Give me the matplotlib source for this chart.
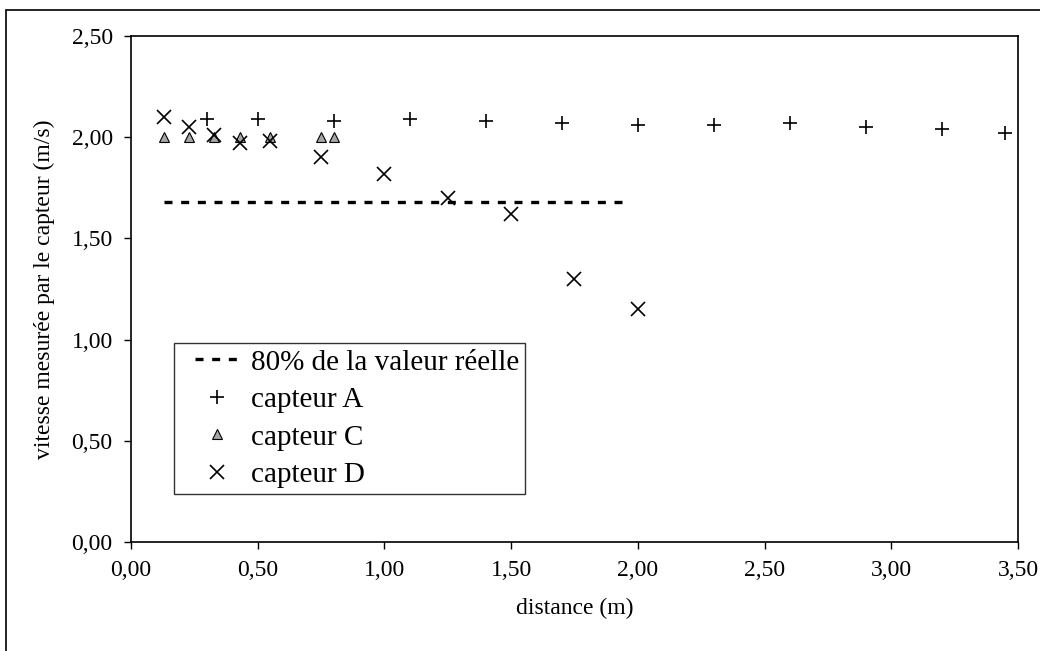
import numpy as np
import matplotlib
matplotlib.use("Agg")
import matplotlib.pyplot as plt
from matplotlib.patches import Rectangle
from matplotlib.lines import Line2D
from matplotlib.legend_handler import HandlerLine2D

plt.rcParams['font.family'] = ['Liberation Serif', 'DejaVu Serif']

# capteur A
xa = [0.30, 0.50, 0.80, 1.10, 1.40, 1.70, 2.00, 2.30, 2.60, 2.90, 3.20, 3.45]
ya = [2.09, 2.09, 2.08, 2.09, 2.08, 2.07, 2.06, 2.06, 2.07, 2.05, 2.04, 2.02]
# capteur C
xc = [0.13, 0.23, 0.33, 0.43, 0.55, 0.75, 0.80]
yc = [2.00, 2.00, 2.00, 2.00, 2.00, 2.00, 2.00]
# capteur D
xd = [0.13, 0.23, 0.33, 0.43, 0.55, 0.75, 1.00, 1.25, 1.50, 1.75, 2.00]
yd = [2.10, 2.05, 2.01, 1.97, 1.98, 1.90, 1.82, 1.70, 1.62, 1.30, 1.15]
# 80% de la valeur reelle
x80 = [0.13, 1.97]
y80 = [1.68, 1.68]

xticks = [0, 0.5, 1.0, 1.5, 2.0, 2.5, 3.0, 3.5]
yticks = [0, 0.5, 1.0, 1.5, 2.0, 2.5]

fig = plt.figure(figsize=(10.4, 6.51), dpi=100)
ax = fig.add_axes([0.1257, 0.1674, 0.8533, 0.7773])

ax.plot(x80, y80, color='black', lw=2.4, dashes=(2.4, 2.6), label='80% de la valeur réelle')
ax.plot(xa, ya, ls='none', marker='+', ms=10, mew=1.2, color='black', label='capteur A')
ax.plot(xc, yc, ls='none', marker='^', ms=7, mew=0.8, mfc='#a6a6a6', mec='black', label='capteur C')
ax.plot(xd, yd, ls='none', marker='x', ms=9.5, mew=1.2, color='black', label='capteur D')

ax.set_xlim(0, 3.5)
ax.set_ylim(0, 2.5)
ax.set_xticks(xticks)
ax.set_yticks(yticks)
ax.set_xticklabels([f"{v:.2f}".replace('.', ',') for v in xticks])
ax.set_yticklabels([f"{v:.2f}".replace('.', ',') for v in yticks])
ax.tick_params(direction='out', length=5, width=1, labelsize=17, pad=8)
for s in ax.spines.values():
    s.set_linewidth(1.2)

ax.set_xlabel('distance (m)', fontsize=17, labelpad=12)
ax.set_ylabel('vitesse mesurée par le capteur (m/s)', fontsize=17, labelpad=12)

leg = ax.legend(loc='lower left', bbox_to_anchor=(0.0488, 0.0949), borderaxespad=0,
                fontsize=21, frameon=True, fancybox=False, handlelength=2.06,
                labelspacing=0.38, borderpad=0.2, handletextpad=0.38,
                handler_map={Line2D: HandlerLine2D(xpad=0.52)})
leg.get_frame().set_edgecolor('black')
leg.get_frame().set_linewidth(1.0)

fig.patches.append(Rectangle((6 / 1040, -0.5), 2, 1.5 - 10 / 651, transform=fig.transFigure,
                             fill=False, edgecolor='black', lw=1.2, clip_on=False))

fig.savefig('out.png', dpi=100)
